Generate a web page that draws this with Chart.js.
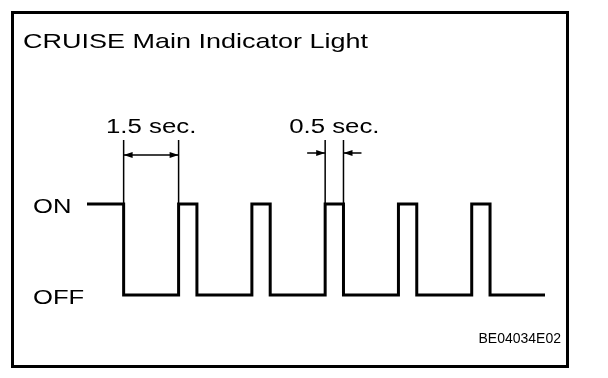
<!DOCTYPE html>
<html>
<head>
<meta charset="utf-8">
<script src="https://cdn.jsdelivr.net/npm/chart.js@4"></script>
<style>
  html, body { margin: 0; padding: 0; background: #fff; }
  canvas { display: block; }
</style>
</head>
<body>
<canvas id="chart" width="608" height="378"></canvas>
<script>
// waveform: time (s) where each level starts, 1 = ON, 0 = OFF
const times = [-1, 0, 1.5, 2, 3.5, 4, 5.5, 6, 7.5, 8, 9.5, 10, 11.5];
const states = [1, 0, 1, 0, 1, 0, 1, 0, 1, 0, 1, 0, 0];
const levelLabels = ["OFF", "ON"];
const titleText = "CRUISE Main Indicator Light";
const codeText = "BE04034E02";
// dimension marks: from/to in seconds
const dimFrom = [0, 5.5];
const dimTo = [1.5, 6];
const dimLabels = ["1.5 sec.", "0.5 sec."];

const FONT = '"Liberation Sans", Arial, sans-serif';

function stretchText(ctx, text, x, y, size, sx, align) {
  ctx.save();
  ctx.font = size + "px " + FONT;
  const w = ctx.measureText(text).width * sx;
  let left = x;
  if (align === "center") left = x - w / 2;
  if (align === "right") left = x - w;
  ctx.translate(left, y);
  ctx.scale(sx, 1);
  ctx.textAlign = "left";
  ctx.textBaseline = "alphabetic";
  ctx.fillText(text, 0, 0);
  ctx.restore();
}

function arrowHead(ctx, x, y, dir) {
  // dir: 1 points right, -1 points left
  ctx.beginPath();
  ctx.moveTo(x, y);
  ctx.lineTo(x - dir * 9, y - 3);
  ctx.lineTo(x - dir * 9, y + 3);
  ctx.closePath();
  ctx.fill();
}

const diagramPlugin = {
  id: "diagram",
  afterDraw(chart) {
    const ctx = chart.ctx;
    const xs = chart.scales.x;
    const ys = chart.scales.y;
    ctx.save();
    ctx.fillStyle = "#000";
    ctx.strokeStyle = "#000";

    // frame
    ctx.lineWidth = 3;
    ctx.strokeRect(12.5, 12.5, 555, 354);

    // title
    stretchText(ctx, titleText, 23, 48, 21, 1.285, "left");

    // level labels
    levelLabels.forEach((lab, v) => {
      stretchText(ctx, lab, 33, ys.getPixelForValue(v) + 9, 21, 1.22, "left");
    });

    // dimension marks
    const onY = ys.getPixelForValue(1);
    dimFrom.forEach((t0, i) => {
      const x0 = xs.getPixelForValue(t0);
      const x1 = xs.getPixelForValue(dimTo[i]);
      const ay = i === 0 ? 155 : 153;
      ctx.lineWidth = 1.5;
      ctx.beginPath();
      ctx.moveTo(x0, 140); ctx.lineTo(x0, onY);
      ctx.moveTo(x1, 140); ctx.lineTo(x1, onY);
      ctx.stroke();
      if (x1 - x0 > 30) {
        ctx.beginPath();
        ctx.moveTo(x0, ay); ctx.lineTo(x1, ay);
        ctx.stroke();
        arrowHead(ctx, x0, ay, -1);
        arrowHead(ctx, x1, ay, 1);
      } else {
        ctx.beginPath();
        ctx.moveTo(x0 - 18, ay); ctx.lineTo(x0, ay);
        ctx.moveTo(x1 + 18, ay); ctx.lineTo(x1, ay);
        ctx.stroke();
        arrowHead(ctx, x0, ay, 1);
        arrowHead(ctx, x1, ay, -1);
      }
      stretchText(ctx, dimLabels[i], (x0 + x1) / 2, 133, 20, 1.29, "center");
    });

    // drawing code
    ctx.font = "14px " + FONT;
    ctx.textAlign = "right";
    ctx.textBaseline = "alphabetic";
    ctx.fillText(codeText, 561, 343);
    ctx.restore();
  }
};

new Chart(document.getElementById("chart"), {
  type: "line",
  data: {
    datasets: [{
      data: times.map((t, i) => ({ x: t, y: states[i] })),
      stepped: "before",
      borderColor: "#000",
      borderWidth: 3,
      pointRadius: 0,
      fill: false,
      clip: 4
    }]
  },
  options: {
    responsive: false,
    animation: false,
    layout: { padding: { left: 87, right: 63, top: 204, bottom: 83 } },
    plugins: {
      legend: { display: false },
      tooltip: { enabled: false },
      title: { display: false }
    },
    scales: {
      x: { type: "linear", min: -1, max: 11.5, display: false },
      y: { min: 0, max: 1, display: false }
    }
  },
  plugins: [diagramPlugin]
});
</script>
</body>
</html>
